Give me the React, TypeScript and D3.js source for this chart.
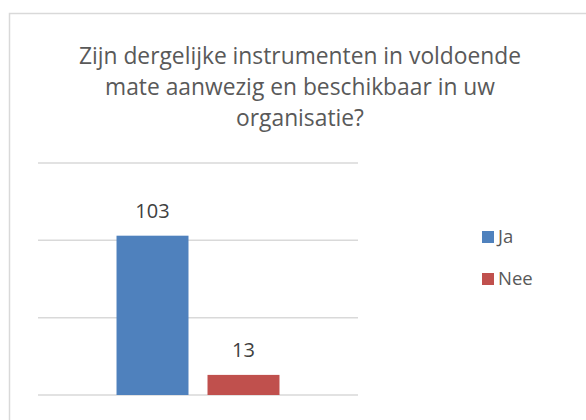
import React, { useEffect, useRef } from 'react';
import * as d3 from 'd3';

const title = [
  'Zijn dergelijke instrumenten in voldoende',
  'mate aanwezig en beschikbaar in uw',
  'organisatie?',
];
const seriesNames = ['Ja', 'Nee'];
const seriesValues = [103, 13];
const seriesColors = ['#4F81BD', '#C0504D'];
const yTicks = [0, 50, 100, 150];

const FONT = '"Open Sans", "Liberation Sans", sans-serif';

const App = () => {
  const ref = useRef<SVGSVGElement>(null);

  useEffect(() => {
    if (!ref.current) return;
    document.body.style.margin = '0';

    const svg = d3.select(ref.current);
    svg.selectAll('*').remove();

    // chart area border (runs off the right and bottom edge)
    svg.append('rect')
      .attr('x', 9.5)
      .attr('y', 13.5)
      .attr('width', 620)
      .attr('height', 430)
      .attr('fill', '#fff')
      .attr('stroke', '#D9D9D9')
      .attr('stroke-width', 1.5);

    // title
    svg.append('g')
      .selectAll('text')
      .data(title)
      .join('text')
      .attr('x', 300)
      .attr('y', (d, i) => 64 + i * 31)
      .attr('text-anchor', 'middle')
      .attr('font-family', FONT)
      .attr('font-size', 22.8)
      .attr('fill', '#595959')
      .text(d => d);

    const plot = { left: 38, right: 358, top: 163, bottom: 395 };

    const y = d3.scaleLinear()
      .domain([0, 150])
      .range([plot.bottom, plot.top]);

    const x = d3.scaleBand<string>()
      .domain(seriesNames)
      .range([plot.left, plot.right])
      .paddingInner(0.209)
      .paddingOuter(0.863);

    // gridlines
    svg.append('g')
      .selectAll('line')
      .data(yTicks)
      .join('line')
      .attr('x1', plot.left)
      .attr('x2', plot.right)
      .attr('y1', d => y(d))
      .attr('y2', d => y(d))
      .attr('stroke', '#D9D9D9')
      .attr('stroke-width', 1.5);

    // bars
    svg.append('g')
      .selectAll('rect')
      .data(seriesNames)
      .join('rect')
      .attr('x', d => x(d)!)
      .attr('width', x.bandwidth())
      .attr('y', (d, i) => y(seriesValues[i]))
      .attr('height', (d, i) => y(0) - y(seriesValues[i]))
      .attr('fill', (d, i) => seriesColors[i]);

    // data labels
    svg.append('g')
      .selectAll('text')
      .data(seriesNames)
      .join('text')
      .attr('x', d => x(d)! + x.bandwidth() / 2)
      .attr('y', (d, i) => y(seriesValues[i]) - 18)
      .attr('text-anchor', 'middle')
      .attr('font-family', FONT)
      .attr('font-size', 20)
      .attr('fill', '#404040')
      .text((d, i) => seriesValues[i]);

    // legend
    const legend = svg.append('g')
      .selectAll('g')
      .data(seriesNames)
      .join('g')
      .attr('transform', (d, i) => `translate(482, ${231 + i * 42})`);

    legend.append('rect')
      .attr('width', 12)
      .attr('height', 12)
      .attr('fill', (d, i) => seriesColors[i]);

    legend.append('text')
      .attr('x', 16)
      .attr('y', 12)
      .attr('font-family', FONT)
      .attr('font-size', 18.5)
      .attr('fill', '#595959')
      .text(d => d);
  }, []);

  return <svg ref={ref} width={586} height={420} style={{ display: 'block' }} />;
};

export default App;
